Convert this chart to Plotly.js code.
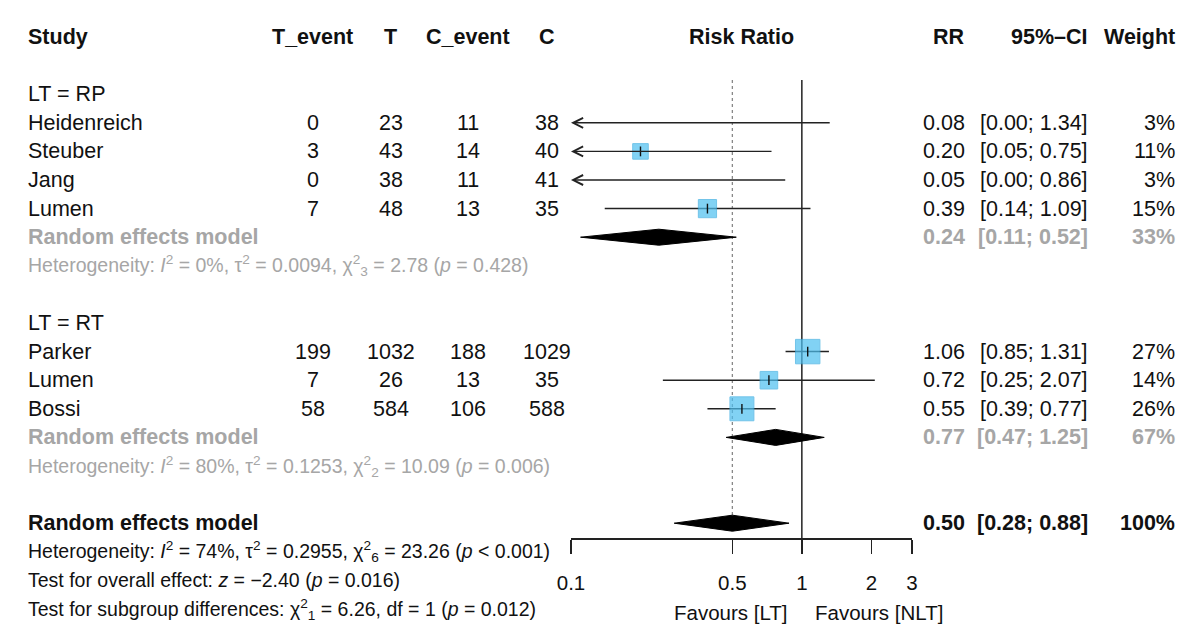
<!DOCTYPE html>
<html><head><meta charset="utf-8">
<script src="https://cdn.plot.ly/plotly-3.0.1.min.js"></script>
<style>html,body{margin:0;padding:0;background:#fff}</style>
</head><body><div id="chart" style="width:1200px;height:638px"></div>
<script>
// ---------- data ----------
const groups      = ['RP', 'RT'];
const studies     = ['Heidenreich', 'Steuber', 'Jang', 'Lumen', 'Parker', 'Lumen', 'Bossi'];
const studyGroup  = ['RP', 'RP', 'RP', 'RP', 'RT', 'RT', 'RT'];
const tEvent      = [0, 3, 0, 7, 199, 7, 58];
const tTotal      = [23, 43, 38, 48, 1032, 26, 584];
const cEvent      = [11, 14, 11, 13, 188, 13, 106];
const cTotal      = [38, 40, 41, 35, 1029, 35, 588];
const rr          = [0.08, 0.20, 0.05, 0.39, 1.06, 0.72, 0.55];
const rrLower     = [0.00, 0.05, 0.00, 0.14, 0.85, 0.25, 0.39];
const rrUpper     = [1.34, 0.75, 0.86, 1.09, 1.31, 2.07, 0.77];
const weight      = [3, 11, 3, 15, 27, 14, 26];

const subRR       = [0.24, 0.77];
const subLower    = [0.11, 0.47];
const subUpper    = [0.52, 1.25];
const subWeight   = [33, 67];
const subHet      = [
  'Heterogeneity: <i>I</i><sup>2</sup> = 0%, τ<sup>2</sup> = 0.0094, χ<sup>2</sup><sub>3</sub> = 2.78 (<i>p</i> = 0.428)',
  'Heterogeneity: <i>I</i><sup>2</sup> = 80%, τ<sup>2</sup> = 0.1253, χ<sup>2</sup><sub>2</sub> = 10.09 (<i>p</i> = 0.006)'
];

const overallRR = 0.50, overallLower = 0.28, overallUpper = 0.88, overallWeight = 100;
const overallStats = [
  'Heterogeneity: <i>I</i><sup>2</sup> = 74%, τ<sup>2</sup> = 0.2955, χ<sup>2</sup><sub>6</sub> = 23.26 (<i>p</i> &lt; 0.001)',
  'Test for overall effect: <i>z</i> = −2.40 (<i>p</i> = 0.016)',
  'Test for subgroup differences: χ<sup>2</sup><sub>1</sub> = 6.26, df = 1 (<i>p</i> = 0.012)'
];

const headers = ['Study', 'T_event', 'T', 'C_event', 'C', 'Risk Ratio', 'RR', '95%–CI', 'Weight'];
const tickVals = [0.1, 0.5, 1, 2, 3];
const tickText = ['0.1', '0.5', '1', '2', '3'];
const axisMin = 0.1, axisMax = 3;
const favLeft = 'Favours [LT]', favRight = 'Favours [NLT]';

// ---------- layout helpers ----------
const W = 1200, H = 638;
const rowPx = 28.6, row0Px = 37;
const yTop = -row0Px / rowPx, yBot = (H - row0Px) / rowPx;
const FONT = 'Liberation Sans, Arial, Helvetica, sans-serif';
const BLACK = '#111111', GRAY = '#a6a6a6', LINE = '#222222';
const FS = 21.5, FS_STAT = 19.5;
const col = {study: 27, tE: 313, t: 391, cE: 468, c: 547, rr: 966, ci: 1089, w: 1176, rrHead: 741};

const annotations = [];
function txt(text, xpx, row, anchor, opt) {
  opt = opt || {};
  annotations.push({
    xref: 'paper', yref: 'y', x: xpx / W, y: row, text: text, showarrow: false,
    xanchor: anchor, yanchor: 'middle', borderpad: 0,
    font: {family: FONT, size: opt.size || FS, color: opt.color || BLACK}
  });
}
const b = s => '<b>' + s + '</b>';
const f2 = v => v.toFixed(2);

// headers (row 0)
txt(b(headers[0]), col.study, 0, 'left');
txt(b(headers[1]), col.tE, 0, 'center');
txt(b(headers[2]), col.t, 0, 'center');
txt(b(headers[3]), col.cE, 0, 'center');
txt(b(headers[4]), col.c, 0, 'center');
txt(b(headers[5]), col.rrHead, 0, 'center');
txt(b(headers[6]), col.rr, 0, 'right');
txt(b(headers[7]), col.ci, 0, 'right');
txt(b(headers[8]), col.w, 0, 'right');

// assign rows
const studyRow = new Array(studies.length);
const subRow = [], subHetRow = [], groupRow = [];
let r = 2;
groups.forEach((g, gi) => {
  groupRow.push(r); r++;
  studies.forEach((s, i) => { if (studyGroup[i] === g) { studyRow[i] = r; r++; } });
  subRow.push(r); r++;
  subHetRow.push(r); r++;
  r++;
});
const overallRow = r;
const statRows = [r + 1, r + 2, r + 3];

// group texts
groups.forEach((g, gi) => {
  txt('LT = ' + g, col.study, groupRow[gi], 'left');
  txt(b('Random effects model'), col.study, subRow[gi], 'left', {color: GRAY});
  txt(b(f2(subRR[gi])), col.rr, subRow[gi], 'right', {color: GRAY});
  txt(b('[' + f2(subLower[gi]) + '; ' + f2(subUpper[gi]) + ']'), col.ci, subRow[gi], 'right', {color: GRAY});
  txt(b(subWeight[gi] + '%'), col.w, subRow[gi], 'right', {color: GRAY});
  txt(subHet[gi], col.study, subHetRow[gi], 'left', {color: GRAY, size: FS_STAT});
});

// study texts
studies.forEach((s, i) => {
  const rw = studyRow[i];
  txt(s, col.study, rw, 'left');
  txt(String(tEvent[i]), col.tE, rw, 'center');
  txt(String(tTotal[i]), col.t, rw, 'center');
  txt(String(cEvent[i]), col.cE, rw, 'center');
  txt(String(cTotal[i]), col.c, rw, 'center');
  txt(f2(rr[i]), col.rr, rw, 'right');
  txt('[' + f2(rrLower[i]) + '; ' + f2(rrUpper[i]) + ']', col.ci, rw, 'right');
  txt(weight[i] + '%', col.w, rw, 'right');
});

// overall texts
txt(b('Random effects model'), col.study, overallRow, 'left');
txt(b(f2(overallRR)), col.rr, overallRow, 'right');
txt(b('[' + f2(overallLower) + '; ' + f2(overallUpper) + ']'), col.ci, overallRow, 'right');
txt(b(overallWeight + '%'), col.w, overallRow, 'right');
overallStats.forEach((s, k) => txt(s, col.study, statRows[k], 'left', {size: FS_STAT}));

// favours labels
const favRow = (612 - row0Px) / rowPx;
annotations.push({xref: 'x', yref: 'y', x: 0, y: favRow, xshift: -12, xanchor: 'right', yanchor: 'middle',
  text: favLeft, showarrow: false, font: {family: FONT, size: 20.5, color: BLACK}});
annotations.push({xref: 'x', yref: 'y', x: 0, y: favRow, xshift: 11, xanchor: 'left', yanchor: 'middle',
  text: favRight, showarrow: false, font: {family: FONT, size: 20.5, color: BLACK}});

// ---------- traces ----------
const traces = [];
const axisRow = (538 - row0Px) / rowPx;
const lineTop = 1.5;

// reference line at 1
traces.push({x: [1, 1], y: [lineTop, axisRow], mode: 'lines', line: {color: LINE, width: 1.5},
  hoverinfo: 'skip', showlegend: false});
// dotted line at overall estimate
traces.push({x: [overallRR, overallRR], y: [lineTop, overallRow - 0.28], mode: 'lines',
  line: {color: '#888888', width: 1.3, dash: 'dot'}, hoverinfo: 'skip', showlegend: false});

// CI lines (within range) and arrows
const ciX = [], ciY = [];
studies.forEach((s, i) => {
  const rw = studyRow[i];
  if (rrLower[i] < axisMin) {
    annotations.push({xref: 'x', yref: 'y', axref: 'x', ayref: 'y',
      x: Math.log10(axisMin), y: rw, ax: Math.log10(rrUpper[i]), ay: rw,
      showarrow: true, arrowhead: 5, arrowsize: 1.4, arrowwidth: 1.4, arrowcolor: LINE,
      standoff: 0, startstandoff: 0, text: ''});
  } else {
    ciX.push(rrLower[i], rrUpper[i], null);
    ciY.push(rw, rw, null);
  }
});
traces.push({x: ciX, y: ciY, mode: 'lines', line: {color: LINE, width: 1.5}, hoverinfo: 'skip', showlegend: false});

// squares
const sqX = [], sqY = [], sqS = [];
studies.forEach((s, i) => {
  if (rr[i] >= axisMin && rr[i] <= axisMax) {
    sqX.push(rr[i]); sqY.push(studyRow[i]); sqS.push(4.7 * Math.sqrt(weight[i]));
  }
});
traces.push({x: sqX, y: sqY, mode: 'markers', cliponaxis: false,
  marker: {symbol: 'square', size: sqS, color: '#4dbff0', line: {color: '#38ace0', width: 1}},
  hoverinfo: 'skip', showlegend: false});
traces.push({x: sqX, y: sqY, mode: 'markers', cliponaxis: false,
  marker: {symbol: 'line-ns', size: 7, line: {color: BLACK, width: 1.4}},
  hoverinfo: 'skip', showlegend: false});

// diamonds
const dX = [], dY = [], h = 0.28;
function diamond(lo, est, up, rw) {
  dX.push(lo, est, up, est, lo, null);
  dY.push(rw, rw - h, rw, rw + h, rw, null);
}
groups.forEach((g, gi) => diamond(subLower[gi], subRR[gi], subUpper[gi], subRow[gi]));
diamond(overallLower, overallRR, overallUpper, overallRow);
traces.push({x: dX, y: dY, mode: 'lines', fill: 'toself', fillcolor: '#000000',
  line: {color: '#000000', width: 1}, hoverinfo: 'skip', showlegend: false});

const layout = {
  width: W, height: H,
  margin: {l: 0, r: 0, t: 0, b: 0},
  paper_bgcolor: '#ffffff', plot_bgcolor: 'rgba(0,0,0,0)',
  showlegend: false,
  xaxis: {
    type: 'log', range: [Math.log10(axisMin), Math.log10(axisMax)],
    domain: [571 / W, 912 / W], anchor: 'free', position: 1 - 538 / H,
    showline: true, linecolor: LINE, linewidth: 1.5,
    ticks: 'outside', ticklen: 14, tickwidth: 1.5, tickcolor: LINE,
    tickmode: 'array', tickvals: tickVals, ticktext: tickText,
    tickfont: {family: FONT, size: 20.5, color: BLACK}, ticklabelstandoff: 12,
    showgrid: false, zeroline: false, fixedrange: true
  },
  yaxis: {
    domain: [0, 1], range: [yBot, yTop], visible: false, showgrid: false, zeroline: false, fixedrange: true
  },
  annotations: annotations
};

Plotly.newPlot('chart', traces, layout, {displayModeBar: false, staticPlot: true});
</script>
</body></html>
